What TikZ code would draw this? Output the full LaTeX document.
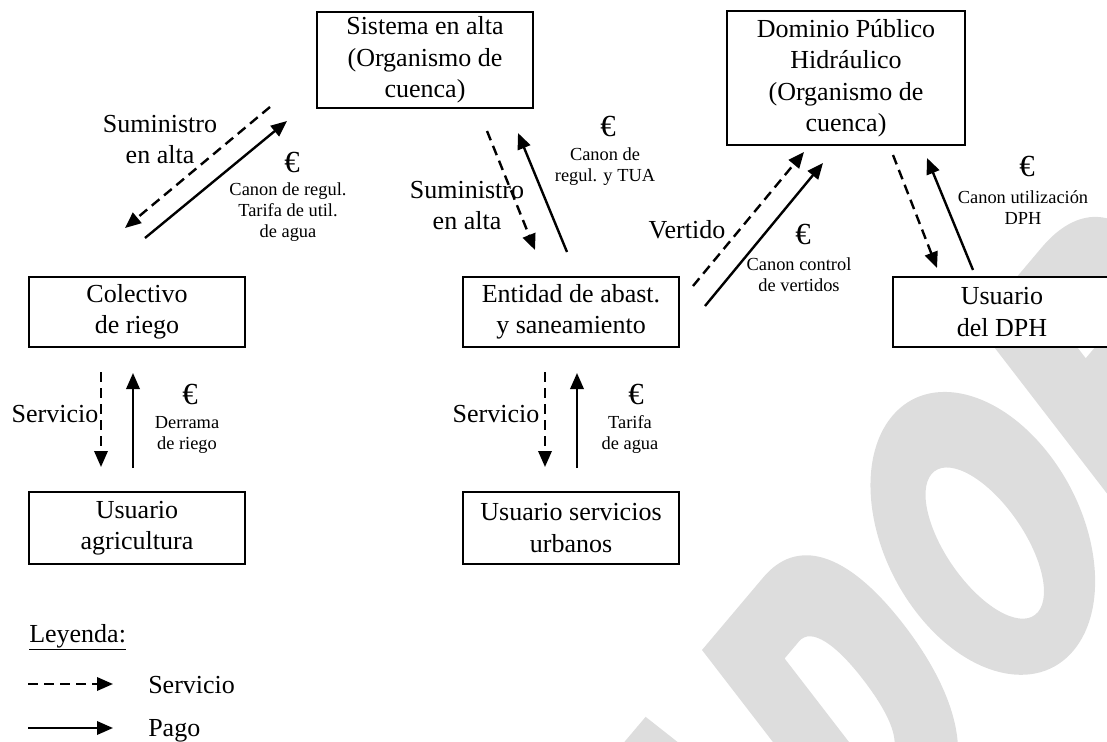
\documentclass[tikz,border=0pt]{standalone}
\usepackage{fontspec}
\setmainfont{Liberation Serif}
\usetikzlibrary{arrows.meta}
\definecolor{wmgray}{RGB}{221,221,221}
\tikzset{
  box/.style={draw, line width=1.3pt, fill=white, align=center, inner sep=0pt,
    minimum width=162pt, minimum height=52.5pt, font=\fontsize{19.5}{23.6}\selectfont},
  biglbl/.style={align=center, inner sep=0pt, font=\fontsize{19.5}{23.6}\selectfont},
  smalllbl/.style={align=center, inner sep=0pt, font=\fontsize{13.8}{15.75}\selectfont},
  euro/.style={inner sep=0pt, font=\fontsize{23}{23}\selectfont},
  pay/.style={line width=1.8pt, -{Triangle[length=12pt,width=10pt]}},
  serv/.style={pay, dash pattern=on 7.5pt off 4.5pt},
  wm/.style={fill=wmgray, draw=none, even odd rule},
}
\begin{document}
\begin{tikzpicture}[x=0.75pt,y=-0.75pt]
\useasboundingbox (0,0) rectangle (1107,742);
\clip (0,0) rectangle (1107,742);
% watermark letters (A D O R of a large grey diagonal word)
\begin{scope}[shift={(702,650)}, yscale=1.24, rotate=43.7]
  % A (apex only visible)
  \path[wm] (-78,0) -- (-15,255) -- (-260,255) -- (-160,0) -- cycle;
  % D
  \path[wm] (0,0) -- (85,0) .. controls (130,0) and (160,40) .. (160,125)
      .. controls (160,210) and (130,255) .. (85,255) -- (0,255) -- cycle
    (55,62) -- (75,62) .. controls (92,62) and (100,90) .. (100,128)
      .. controls (100,170) and (92,193) .. (75,193) -- (55,193) -- cycle;
  % O
  \path[wm] (268,126) ellipse [x radius=92, y radius=131]
    (264,133) ellipse [x radius=36, y radius=77];
  % R
  \path[wm] (380,0) -- (470,0) .. controls (520,0) and (545,30) .. (545,68)
      .. controls (545,105) and (520,128) .. (490,133) -- (565,255) -- (495,255)
      -- (445,150) -- (440,150) -- (440,255) -- (380,255) -- cycle
    (440,52) -- (468,52) .. controls (485,52) and (490,60) .. (490,72)
      .. controls (490,86) and (482,95) .. (465,95) -- (440,95) -- cycle;
\end{scope}
% boxes
\node[box, minimum height=72pt] (sis) at (425,60) {Sistema en alta\\(Organismo de\\cuenca)};
\node[box, minimum width=178.5pt, minimum height=100.5pt] (dom) at (846,78) {Dominio Público\\Hidráulico\\(Organismo de\\cuenca)};
\node[box] (col) at (137,312) {Colectivo\\de riego};
\node[box] (ent) at (571,312) {Entidad de abast.\\y saneamiento};
\node[box, minimum width=163.5pt] (udph) at (1002,312) {Usuario\\del DPH};
\node[box, minimum height=54pt] (uagr) at (137,528) {Usuario\\agricultura};
\node[box, minimum height=54pt] (uurb) at (571,528) {Usuario servicios\\urbanos};
% arrow end points
\coordinate (a1s) at (270,107); \coordinate (a1e) at (125,228);
\coordinate (a2s) at (145,238); \coordinate (a2e) at (287,121);
\coordinate (a3s) at (487,131); \coordinate (a3e) at (535,250);
\coordinate (a4s) at (567,252); \coordinate (a4e) at (518,133);
\coordinate (a5s) at (693,286); \coordinate (a5e) at (804,152);
\coordinate (a6s) at (705,306); \coordinate (a6e) at (823,163);
\coordinate (a7s) at (893,155); \coordinate (a7e) at (937,268);
\coordinate (a8s) at (973,270); \coordinate (a8e) at (927,158);
\coordinate (a9s) at (101,372); \coordinate (a9e) at (101,467);
\coordinate (a10s) at (133,468); \coordinate (a10e) at (133,373);
\coordinate (a11s) at (545,372); \coordinate (a11e) at (545,467);
\coordinate (a12s) at (577,468); \coordinate (a12e) at (577,373);
\draw[serv] (a1s) -- (a1e);
\draw[pay] (a2s) -- (a2e);
\draw[serv] (a3s) -- (a3e);
\draw[pay] (a4s) -- (a4e);
\draw[serv] (a5s) -- (a5e);
\draw[pay] (a6s) -- (a6e);
\draw[serv] (a7s) -- (a7e);
\draw[pay] (a8s) -- (a8e);
\draw[serv] (a9s) -- (a9e);
\draw[pay] (a10s) -- (a10e);
\draw[serv] (a11s) -- (a11e);
\draw[pay] (a12s) -- (a12e);
% labels
\node[biglbl] (l1) at (160,139.5) {Suministro\\en alta};
\node[euro] (e1) at (292,162) {€};
\node[smalllbl] (c1) at (288,212) {Canon de regul.\\Tarifa de util.\\de agua};
\node[biglbl] (l2) at (467,205.5) {Suministro\\en alta};
\node[euro] (e2) at (608,126) {€};
\node[smalllbl] (c2) at (605,167) {Canon de\\regul. y TUA};
\node[biglbl] (l3) at (687,230) {Vertido};
\node[euro] (e3) at (803,234) {€};
\node[smalllbl] (c3) at (799,275) {Canon control\\de vertidos};
\node[euro] (e4) at (1027,166) {€};
\node[smalllbl] (c4) at (1023,207.5) {Canon utilización\\DPH};
\node[biglbl] (l4) at (55,414) {Servicio};
\node[euro] (e5) at (190,394) {€};
\node[smalllbl] (c5) at (187,435) {Derrama\\de riego};
\node[biglbl] (l5) at (496,414) {Servicio};
\node[euro] (e6) at (636,394) {€};
\node[smalllbl] (c6) at (630,435) {Tarifa\\de agua};
% legend
\node[biglbl, anchor=base west] (ley) at (29,642) {\underline{Leyenda:}};
\coordinate (lg1s) at (28,684); \coordinate (lg1e) at (113,684);
\coordinate (lg2s) at (28,728); \coordinate (lg2e) at (113,728);
\draw[serv] (lg1s) -- (lg1e);
\draw[pay] (lg2s) -- (lg2e);
\node[biglbl, anchor=base west] (lgs) at (148,693) {Servicio};
\node[biglbl, anchor=base west] (lgp) at (148,736) {Pago};
\end{tikzpicture}
\end{document}
